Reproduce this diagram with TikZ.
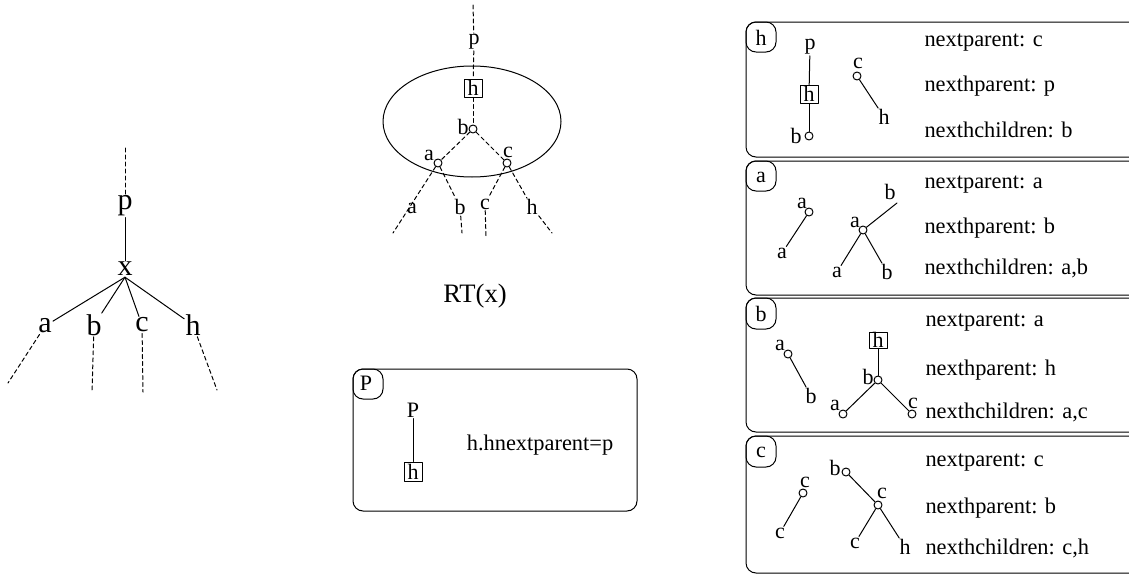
\documentclass[tikz,border=0pt]{standalone}
\usepackage{fontspec}
\setmainfont{Liberation Serif}
\begin{document}
\begin{tikzpicture}[line cap=round,line join=round,x=0.5pt,y=-0.5pt,line width=0.5pt,
	lbl/.style={inner sep=0.4pt,font=\fontsize{11}{13}\selectfont},
	biglbl/.style={inner sep=0.4pt,font=\fontsize{15}{17}\selectfont},
	knot/.style={circle,draw,inner sep=0pt,minimum size=4pt,fill=white},
	hbox/.style={draw,inner sep=0pt,minimum width=9pt,minimum height=9pt,font=\fontsize{11}{13}\selectfont},
	info/.style={anchor=west,inner sep=0pt,font=\fontsize{11.2}{13}\selectfont},
	dsh/.style={dash pattern=on 2pt off 1.5pt}]%树与RT(x)
			\useasboundingbox (0,0) rectangle (1129,578);
			\clip (0,0) rectangle (1129,578);
			% left tree
			\coordinate (ltop) at (125,148);
			\node[biglbl] (lp) at (125,206) {p};
			\node[biglbl] (lx) at (125,269) {x};
			\node[biglbl] (la) at (45,326) {a};
			\node[biglbl] (lb) at (94,325) {b};
			\node[biglbl] (lc) at (142,325) {c};
			\node[biglbl] (lh) at (193,325) {h};
			\coordinate (lae) at (8,383);
			\coordinate (lbe) at (92,392);
			\coordinate (lce) at (143,392);
			\coordinate (lhe) at (217,390);
			\draw [dsh] (ltop)-- (lp);
			\draw (lp)-- (lx);
			\draw (lx.south)-- (la);
			\draw (lx.south)-- (lb);
			\draw (lx.south)-- (lc);
			\draw (lx.south)-- (lh);
			\draw [dsh] (la)-- (lae);
			\draw [dsh] (lb)-- (lbe);
			\draw [dsh] (lc)-- (lce);
			\draw [dsh] (lh)-- (lhe);
			% RT(x)
			\draw (472,121.5) ellipse [x radius=44.5pt,y radius=27.75pt];
			\coordinate (rtop) at (473,5);
			\node[lbl] (rp) at (474,42) {p};
			\node[hbox] (rh) at (473,88) {h};
			\node[knot] (rb) at (473,129) {};
			\node[lbl] at (463,127) {b};
			\node[knot] (ra) at (438,163) {};
			\node[lbl] at (429,155) {a};
			\node[knot] (rc) at (507,163) {};
			\node[lbl] at (508,152) {c};
			\draw [dsh] (rtop)-- (rp);
			\draw [dsh] (rp)-- (rh);
			\draw [dsh] (rh)-- (rb);
			\draw [dsh] (rb)-- (ra);
			\draw [dsh] (rb)-- (rc);
			\coordinate (rae) at (393,233);
			\node[lbl] (ral) at (412,208) {a};
			\node[lbl] (rbl) at (460,207) {b};
			\node[lbl] (rcl) at (485,204) {c};
			\node[lbl] (rhl) at (532,207) {h};
			\coordinate (rbe) at (462,233);
			\coordinate (rce) at (486,236);
			\coordinate (rhe) at (552,233);
			\draw [dsh] (ra)-- (rae);
			\draw [dsh] (ra)-- (rbl);
			\draw [dsh] (rbl)-- (rbe);
			\draw [dsh] (rc)-- (rcl);
			\draw [dsh] (rcl)-- (rce);
			\draw [dsh] (rc)-- (rhl);
			\draw [dsh] (rhl)-- (rhe);
			\node[inner sep=0pt,font=\fontsize{13.3}{15}\selectfont] (rt) at (475,296) {RT(x)};
			% P box
			\draw [rounded corners=5pt] (353,369) rectangle (637,511);
			\draw [rounded corners=5pt] (353,369) rectangle (383,399);
			\node[lbl] (ptag) at (366,383) {P};
			\node[lbl] (pp) at (413,410) {P};
			\node[hbox,minimum height=9.5pt] (ph) at (413,471.5) {h};
			\draw (pp)-- (ph);
			\node[info,anchor=center] (ptxt) at (540,445) {h.hnextparent=p};
			% panel h
			\draw [rounded corners=5pt] (746,22) rectangle (1160,157);
			\draw [rounded corners=5pt] (746,22) rectangle (776,52);
			\node[lbl] (htag) at (761,38) {h};
			\node[lbl] (hp) at (810,47) {p};
			\node[hbox] (hh) at (809,94) {h};
			\node[knot] (hb) at (809,136) {};
			\node[lbl] at (796,136) {b};
			\draw (hp)-- (hh);
			\draw (hh)-- (hb);
			\node[knot] (hc) at (857,76) {};
			\node[lbl] at (858,63) {c};
			\node[lbl] (hhl) at (884,117) {h};
			\draw (hc)-- (hhl);
			\node[info] at (924,43) {nextparent: c};
			\node[info] at (924,86) {nexthparent: p};
			\node[info] at (924,130) {nexthchildren: b};
			% panel a
			\draw [rounded corners=5pt] (746,161) rectangle (1160,295);
			\draw [rounded corners=5pt] (746,161) rectangle (776,191);
			\node[lbl] (atag) at (761,177) {a};
			\node[knot] (ap) at (809,212) {};
			\node[lbl] at (802,203) {a};
			\node[lbl] (ac) at (782,253) {a};
			\draw (ap)-- (ac);
			\node[knot] (aq) at (863,230) {};
			\node[lbl] at (855,222) {a};
			\coordinate (ae) at (897,203);
			\node[lbl] at (890,192) {b};
			\node[lbl] (aa) at (837,272) {a};
			\node[lbl] (ab) at (887,272) {b};
			\draw (aq)-- (ae);
			\draw (aq)-- (aa);
			\draw (aq)-- (ab);
			\node[info] at (924,185) {nextparent: a};
			\node[info] at (924,228) {nexthparent: b};
			\node[info] at (924,268) {nexthchildren: a,b};
			% panel b
			\draw [rounded corners=5pt] (746,298) rectangle (1160,432);
			\draw [rounded corners=5pt] (746,298) rectangle (776,329);
			\node[lbl] (btag) at (761,314) {b};
			\node[knot] (bp) at (788,354) {};
			\node[lbl] at (780,345) {a};
			\node[lbl] (bc) at (811,396) {b};
			\draw (bp)-- (bc);
			\node[hbox,minimum height=8pt] (bh) at (878,340) {h};
			\node[knot] (bq) at (878,380) {};
			\node[lbl] at (868,377) {b};
			\node[knot] (ba) at (843,414) {};
			\node[lbl] at (835,405) {a};
			\node[knot] (bcc) at (912,414) {};
			\node[lbl] at (913,403) {c};
			\draw (bh)-- (bq);
			\draw (bq)-- (ba);
			\draw (bq)-- (bcc);
			\node[info] at (925,323) {nextparent: a};
			\node[info] at (925,370) {nexthparent: h};
			\node[info] at (925,412) {nexthchildren: a,c};
			% panel c
			\draw [rounded corners=5pt] (746,436) rectangle (1160,573);
			\draw [rounded corners=5pt] (746,436) rectangle (776,467);
			\node[lbl] (ctag) at (761,452) {c};
			\node[knot] (cp) at (803,493) {};
			\node[lbl] at (805,482) {c};
			\node[lbl] (cc) at (780,533) {c};
			\draw (cp)-- (cc);
			\node[knot] (cb) at (846,472) {};
			\node[lbl] at (835,468) {b};
			\node[knot] (cq) at (878,505) {};
			\node[lbl] at (882,493) {c};
			\node[lbl] (ccl) at (855,543) {c};
			\node[lbl] (chl) at (905,547) {h};
			\draw (cb)-- (cq);
			\draw (cq)-- (ccl);
			\draw (cq)-- (chl);
			\node[info] at (925,463) {nextparent: c};
			\node[info] at (925,508) {nexthparent: b};
			\node[info] at (925,548) {nexthchildren: c,h};
		\end{tikzpicture}
\end{document}
